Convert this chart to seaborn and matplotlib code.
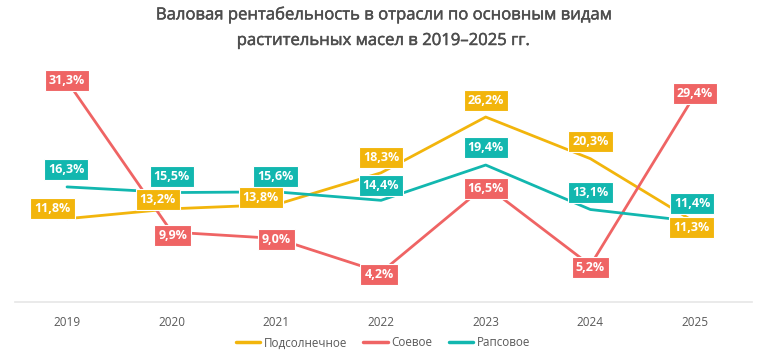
import matplotlib
matplotlib.use("Agg")
import matplotlib.pyplot as plt
import matplotlib.patheffects as pe
import seaborn as sns
import pandas as pd

years = [2019, 2020, 2021, 2022, 2023, 2024, 2025]
sunflower = [11.8, 13.2, 13.8, 18.3, 26.2, 20.3, 11.3]
soybean = [31.3, 9.9, 9.0, 4.2, 16.5, 5.2, 29.4]
rapeseed = [16.3, 15.5, 15.6, 14.4, 19.4, 13.1, 11.4]
series_names = ["Подсолнечное", "Соевое", "Рапсовое"]
title = "Валовая рентабельность в отрасли по основным видам\nрастительных масел в 2019–2025 гг."

colors = {"Подсолнечное": "#F2B50C", "Соевое": "#EF6464", "Рапсовое": "#12B7AF"}

df = pd.DataFrame({
    "year": years * 3,
    "value": sunflower + soybean + rapeseed,
    "series": [series_names[0]] * 7 + [series_names[1]] * 7 + [series_names[2]] * 7,
})

sns.set_theme(style="white")
plt.rcParams["font.family"] = ["Open Sans", "DejaVu Sans"]

fig = plt.figure(figsize=(7.66, 3.56), dpi=100)
ax = fig.add_axes([15 / 766, 54 / 356, 737 / 766, 233 / 356])

sns.lineplot(data=df, x="year", y="value", hue="series", palette=colors,
             hue_order=series_names, linewidth=2.0, ax=ax, legend=False, sort=False)

ax.set_xlim(2018.503, 2025.544)
ax.set_ylim(0, 33)
ax.set_xticks(years)
ax.set_xticklabels([str(y) for y in years], fontsize=8.5, color="#595959")
ax.set_yticks([])
ax.set_xlabel("")
ax.set_ylabel("")
for s in ["top", "right", "left"]:
    ax.spines[s].set_visible(False)
ax.spines["bottom"].set_color("#E6E6E6")
ax.spines["bottom"].set_linewidth(1.2)
ax.tick_params(axis="x", length=0, pad=10)

# label offsets in pixels (dx, dy up)
offsets = {
    "Подсолнечное": [(-14.5, 10), (-14, 9), (-15.5, 7), (0, 15), (0, 16.5), (0, 17), (-3.5, -5.3)],
    "Соевое": [(0, 1), (1, -3), (0, -1.5), (-2, -2), (0, -2.5), (0, -2), (0, 1)],
    "Рапсовое": [(-1, 17.5), (0, 16), (-1, 15.5), (0, 15), (0, 17.5), (0, 17), (-3, 18.5)],
}
data = {"Подсолнечное": sunflower, "Соевое": soybean, "Рапсовое": rapeseed}
for name in series_names:
    for i, (yr, v) in enumerate(zip(years, data[name])):
        dx, dy = offsets[name][i]
        ax.annotate(f"{v:.1f}%".replace(".", ","), xy=(yr, v),
                    xytext=(dx * 0.72, dy * 0.72), textcoords="offset points",
                    ha="center", va="center", fontsize=9, fontweight="bold",
                    color="white", zorder=5,
                    bbox=dict(boxstyle="square,pad=0.32", fc=colors[name],
                              ec="white", lw=0.8))

fig.text(0.5, 1 - 7 / 356, title, ha="center", va="top", fontsize=12,
         color="#4D4D4D", linespacing=1.8,
         path_effects=[pe.withStroke(linewidth=0.35, foreground="#4D4D4D")])

handles = [plt.Line2D([], [], color=colors[n], lw=2.5) for n in series_names]
fig.legend(handles, series_names, loc="center", bbox_to_anchor=(0.5, 13 / 356),
           ncol=3, frameon=False, fontsize=8.4, labelcolor="#595959",
           handlelength=2.1, handletextpad=0.3, columnspacing=1.4)

fig.savefig("out.png", dpi=100)
